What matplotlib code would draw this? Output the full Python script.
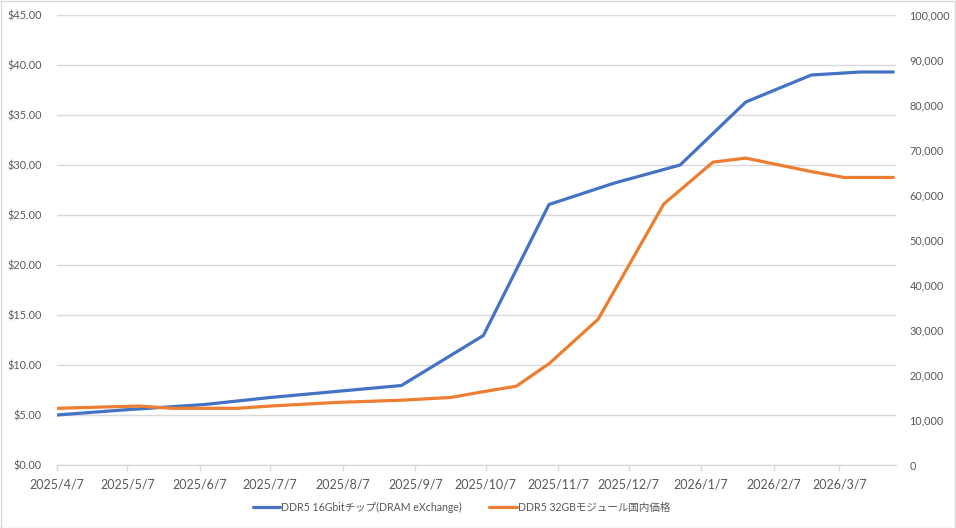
import matplotlib
matplotlib.use("Agg")
import matplotlib.pyplot as plt
from matplotlib.patches import Rectangle
from matplotlib.ticker import FuncFormatter, MultipleLocator
import pandas as pd

plt.rcParams['font.family'] = ['Lato', 'Noto Sans CJK JP', 'DejaVu Sans']

# ---- data ----
chip_dates = ["2025-04-07", "2025-05-05", "2025-06-09", "2025-07-07", "2025-08-04",
              "2025-09-01", "2025-10-06", "2025-10-20", "2025-11-03", "2025-12-01",
              "2025-12-29", "2026-01-26", "2026-02-23", "2026-03-16", "2026-03-30"]
chip_usd = [5.00, 5.50, 6.05, 6.75, 7.35,
            7.95, 12.95, 19.5, 26.05, 28.2,
            30.0, 36.3, 39.0, 39.3, 39.3]

module_dates = ["2025-04-07", "2025-05-12", "2025-05-26", "2025-06-23", "2025-07-07",
                "2025-08-04", "2025-09-01", "2025-09-22", "2025-10-06", "2025-10-20",
                "2025-11-03", "2025-11-24", "2025-12-22", "2026-01-12", "2026-01-26",
                "2026-02-23", "2026-03-09", "2026-03-30"]
module_jpy = [12600, 13100, 12600, 12600, 13100,
              13900, 14400, 15000, 16300, 17500,
              22500, 32400, 58000, 67300, 68200,
              65200, 63900, 63900]

tick_labels = ["2025/4/7", "2025/5/7", "2025/6/7", "2025/7/7", "2025/8/7", "2025/9/7",
               "2025/10/7", "2025/11/7", "2025/12/7", "2026/1/7", "2026/2/7", "2026/3/7"]

series_names = ["DDR5 16Gbitチップ(DRAM eXchange)", "DDR5 32GBモジュール国内価格"]

# ---- plot ----
W, H = 956, 528
fig = plt.figure(figsize=(W / 100, H / 100), dpi=100)
ax = fig.add_axes([57 / W, 1 - 465 / H, (895.7 - 57) / W, (465 - 15) / H])
ax2 = ax.twinx()

blue = "#4472C4"
orange = "#ED7D31"
txt = "#595959"
grid = "#D9D9D9"

cd = pd.to_datetime(chip_dates)
md = pd.to_datetime(module_dates)
l1, = ax.plot(cd, chip_usd, color=blue, lw=2.3, solid_capstyle='round', solid_joinstyle='round', zorder=3)
l2, = ax2.plot(md, module_jpy, color=orange, lw=2.3, solid_capstyle='round', solid_joinstyle='round', zorder=3)

ax.set_ylim(0, 45)
ax2.set_ylim(0, 100000)
ax.yaxis.set_major_locator(MultipleLocator(5))
ax2.yaxis.set_major_locator(MultipleLocator(10000))
ax.yaxis.set_major_formatter(FuncFormatter(lambda v, p: f"${v:.2f}"))
ax2.yaxis.set_major_formatter(FuncFormatter(lambda v, p: f"{int(v):,}"))

ax.set_xlim(pd.Timestamp("2025-04-07"), pd.Timestamp("2026-03-31"))
ticks = pd.to_datetime(tick_labels, format="%Y/%m/%d")
ax.set_xticks(ticks)
ax.set_xticklabels(tick_labels)

ax.grid(axis='y', color=grid, lw=1)
ax.set_axisbelow(True)
for a in (ax, ax2):
    for s in ('top', 'left', 'right', 'bottom'):
        a.spines[s].set_visible(False)
ax.spines['bottom'].set_visible(True)
ax.spines['bottom'].set_color(grid)
ax.spines['bottom'].set_linewidth(1)

ax.tick_params(axis='x', colors=grid, labelcolor=txt, labelsize=9, length=4, width=1, pad=6, direction='out')
ax.tick_params(axis='y', length=0, labelcolor=txt, labelsize=7.8, pad=11)
ax2.tick_params(axis='y', length=0, labelcolor=txt, labelsize=7.8, pad=10)

fig.legend([l1, l2], series_names, loc='center', bbox_to_anchor=(461.5 / W, 1 - 507 / H),
           ncol=2, frameon=False, fontsize=7.6, handlelength=2.6, handletextpad=0.1,
           columnspacing=2.6, labelcolor=txt)

fig.add_artist(Rectangle((0.5 / W, 0.5 / H), 1 - 1.5 / W, 1 - 1.5 / H, transform=fig.transFigure,
                         fill=False, edgecolor="#D9D9D9", lw=1))

fig.savefig("out.png", dpi=100, facecolor="white")
